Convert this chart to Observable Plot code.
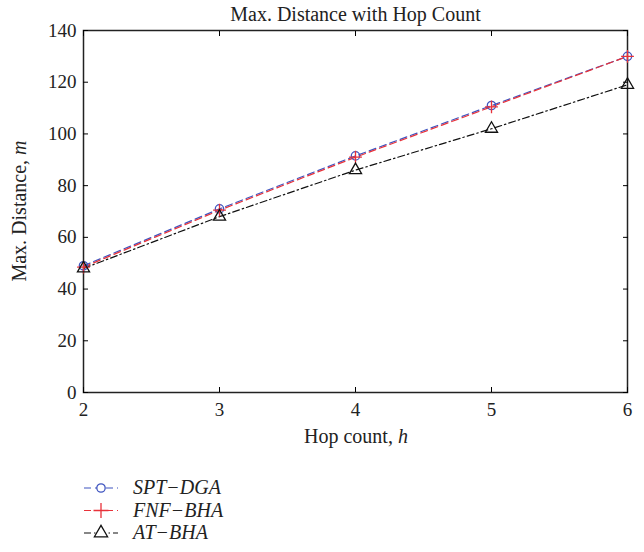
<!DOCTYPE html>
<html><head><meta charset="utf-8">
<script src="https://cdn.jsdelivr.net/npm/d3@7"></script>
<script src="https://cdn.jsdelivr.net/npm/@observablehq/plot@0.6"></script>
<style>
body{margin:0;background:#fff;font-family:"Liberation Serif","DejaVu Serif",serif;}
#chart svg{display:block;}
</style></head>
<body><div id="chart"></div><div id="legend"></div>
<script>
const hops = [2, 3, 4, 5, 6];
const sptDga = [49, 71, 91.5, 111, 130];
const fnfBha = [48.5, 70.5, 91, 110.5, 130];
const atBha = [48, 68, 86, 102, 119];
const xTicks = [2, 3, 4, 5, 6];
const yTicks = [0, 20, 40, 60, 80, 100, 120, 140];
const seriesNames = ["SPT\u2212DGA", "FNF\u2212BHA", "AT\u2212BHA"];
const seriesColors = ["#3f55c0", "#e8323a", "#111111"];
const seriesDash = ["7,4", "7,4", "7,3,1.5,3"];
const seriesSymbols = ["circle", "plus", "triangle"];
const seriesValues = [sptDga, fnfBha, atBha];

const rows = [];
seriesNames.forEach((s, i) => hops.forEach((h, j) => rows.push({series: s, h, v: seriesValues[i][j]})));

const font = '"Liberation Serif","DejaVu Serif",serif';
const marks = [
  Plot.frame({stroke: "#222", strokeWidth: 1.5}),
  Plot.axisX({ticks: xTicks, tickFormat: "d", tickSize: 0, tickPadding: 10, label: null, fontSize: 19, color: "#222"}),
  Plot.axisY({ticks: yTicks, tickFormat: "d", tickSize: 0, tickPadding: 7, label: null, fontSize: 19, color: "#222"}),
  Plot.axisX({ticks: xTicks, anchor: "bottom", tickSize: -5, text: null, label: null}),
  Plot.axisX({ticks: xTicks, anchor: "top", tickSize: -5, text: null, label: null}),
  Plot.axisY({ticks: yTicks, anchor: "left", tickSize: -5, text: null, label: null}),
  Plot.axisY({ticks: yTicks, anchor: "right", tickSize: -5, text: null, label: null}),
];
seriesNames.forEach((s, i) => {
  const d = rows.filter(r => r.series === s);
  marks.push(Plot.line(d, {x: "h", y: "v", stroke: seriesColors[i], strokeWidth: 1.2, strokeDasharray: seriesDash[i]}));
});
seriesNames.forEach((s, i) => {
  const d = rows.filter(r => r.series === s);
  marks.push(Plot.dot(d, {x: "h", y: "v", symbol: seriesSymbols[i], stroke: seriesColors[i], fill: "none", strokeWidth: 1.3, r: i === 2 ? 4.5 : 4.2}));
});
marks.push(Plot.text(["Max. Distance with Hop Count"], {frameAnchor: "top", dy: -24, fontSize: 20, fill: "#222", fontFamily: font}));

const chart = Plot.plot({
  width: 644, height: 460,
  marginTop: 30, marginLeft: 83, marginRight: 17, marginBottom: 68,
  style: {fontFamily: font, fontSize: "19px", background: "white"},
  x: {domain: [2, 6]},
  y: {domain: [0, 140]},
  marks
});
document.getElementById("chart").appendChild(chart);

const svg = d3.select(chart);
const xl = svg.append("text").attr("x", 356).attr("y", 443).attr("text-anchor", "middle")
  .attr("font-size", 20).attr("fill", "#222").attr("font-family", font);
xl.append("tspan").text("Hop count, ");
xl.append("tspan").attr("font-style", "italic").text("h");
const yl = svg.append("text").attr("transform", "translate(26,211) rotate(-90)").attr("text-anchor", "middle")
  .attr("font-size", 20).attr("fill", "#222").attr("font-family", font);
yl.append("tspan").text("Max. Distance, ");
yl.append("tspan").attr("font-style", "italic").text("m");

// legend
const lg = d3.select("#legend").append("svg").attr("width", 644).attr("height", 92).style("display", "block");
seriesNames.forEach((s, i) => {
  const y = 28 + i * 22.5;
  const g = lg.append("g").attr("transform", `translate(0,${y})`);
  g.append("line").attr("x1", 84).attr("x2", 118).attr("y1", 0).attr("y2", 0)
    .attr("stroke", seriesColors[i]).attr("stroke-width", 1.2).attr("stroke-dasharray", seriesDash[i]);
  const sym = {circle: d3.symbolCircle, plus: d3.symbolPlus, triangle: d3.symbolTriangle}[seriesSymbols[i]];
  g.append("path").attr("transform", "translate(101,0)").attr("d", d3.symbol(sym, i === 0 ? 55 : 75)())
    .attr("fill", "white").attr("stroke", seriesColors[i]).attr("stroke-width", 1.3);
  g.append("text").attr("x", 133).attr("y", 6).attr("font-size", 20).attr("font-style", "italic")
    .attr("fill", "#222").attr("font-family", font).text(s);
});
</script></body></html>
